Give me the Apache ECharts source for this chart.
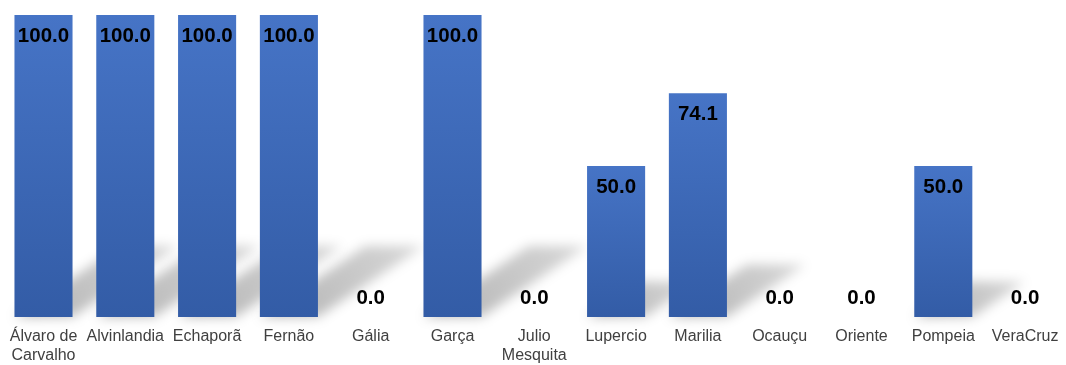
<!DOCTYPE html>
<html>
<head>
<meta charset="utf-8">
<script src="https://cdn.jsdelivr.net/npm/echarts@6/dist/echarts.min.js"></script>
<style>
  html, body { margin: 0; padding: 0; background: #ffffff; }
  #chart { width: 1066px; height: 365px; }
</style>
</head>
<body>
<div id="chart"></div>
<script>
// Municipalities and their percentage values
const categories = ['Álvaro de\nCarvalho', 'Alvinlandia', 'Echaporã', 'Fernão', 'Gália', 'Garça',
  'Julio\nMesquita', 'Lupercio', 'Marilia', 'Ocauçu', 'Oriente', 'Pompeia', 'VeraCruz'];
const values = [100, 100, 100, 100, 0, 100, 0, 50, 74.1, 0, 0, 50, 0];

const BAR_RATIO = 0.71;          // bar width as a share of the category band
const SHADOW_SKEW_X = 0.35;      // perspective shadow: horizontal shift per px of height
const SHADOW_SKEW_Y = 0.235;     // perspective shadow: vertical rise per px of height
const FAR = 4000;                // shape is drawn off-canvas so only its blurred shadow shows

const chart = echarts.init(document.getElementById('chart'), null, { renderer: 'canvas' });

function renderShadow(params, api) {
  const i = api.value(0);
  const v = api.value(1);
  if (!v) return null;
  const top = api.coord([i, v]);
  const base = api.coord([i, 0]);
  const half = api.size([1, 0])[0] * BAR_RATIO / 2;
  const h = base[1] - top[1];
  const dx = h * SHADOW_SKEW_X;
  const dy = h * SHADOW_SKEW_Y;
  const x0 = base[0] - FAR;
  return {
    type: 'polygon',
    shape: {
      points: [
        [x0 - half, base[1]],
        [x0 + half, base[1]],
        [x0 + half + dx, base[1] - dy],
        [x0 - half + dx, base[1] - dy]
      ]
    },
    style: {
      fill: new echarts.graphic.LinearGradient(0, 1, 1, 0, [
        { offset: 0, color: 'rgba(0,0,0,1)' },
        { offset: 1, color: 'rgba(0,0,0,0.5)' }
      ]),
      shadowColor: 'rgba(0,0,0,0.3)',
      shadowBlur: 12,
      shadowOffsetX: FAR,
      shadowOffsetY: 0
    }
  };
}

const barData = values.map(v => ({
  value: v,
  label: v === 0
    ? { position: 'top', distance: 8 }
    : { position: 'insideTop', distance: 11 }
}));

chart.setOption({
  animation: false,
  backgroundColor: '#ffffff',
  grid: { left: 2.6, width: 1067.5, top: 15, height: 303, containLabel: false },
  xAxis: {
    type: 'category',
    data: categories,
    axisLine: { show: false },
    axisTick: { show: false },
    axisLabel: {
      interval: 0,
      margin: 10,
      color: '#404040',
      fontFamily: '"Liberation Sans", Arial, sans-serif',
      fontSize: 16,
      lineHeight: 19
    }
  },
  yAxis: {
    type: 'value',
    min: 0,
    max: 100,
    show: false,
    splitLine: { show: false }
  },
  series: [
    {
      type: 'custom',
      z: 1,
      clip: false,
      silent: true,
      renderItem: renderShadow,
      encode: { x: 0, y: 1 },
      data: values.map((v, i) => [i, v])
    },
    {
      type: 'bar',
      z: 2,
      barCategoryGap: ((1 - BAR_RATIO) * 100) + '%',
      data: barData,
      itemStyle: {
        color: new echarts.graphic.LinearGradient(0, 0, 0, 1, [
          { offset: 0, color: '#4674C6' },
          { offset: 1, color: '#335CA6' }
        ])
      },
      label: {
        show: true,
        color: '#000000',
        fontFamily: '"Liberation Sans", Arial, sans-serif',
        fontWeight: 'bold',
        fontSize: 20.5,
        formatter: p => p.value.toFixed(1)
      }
    }
  ]
});
</script>
</body>
</html>
